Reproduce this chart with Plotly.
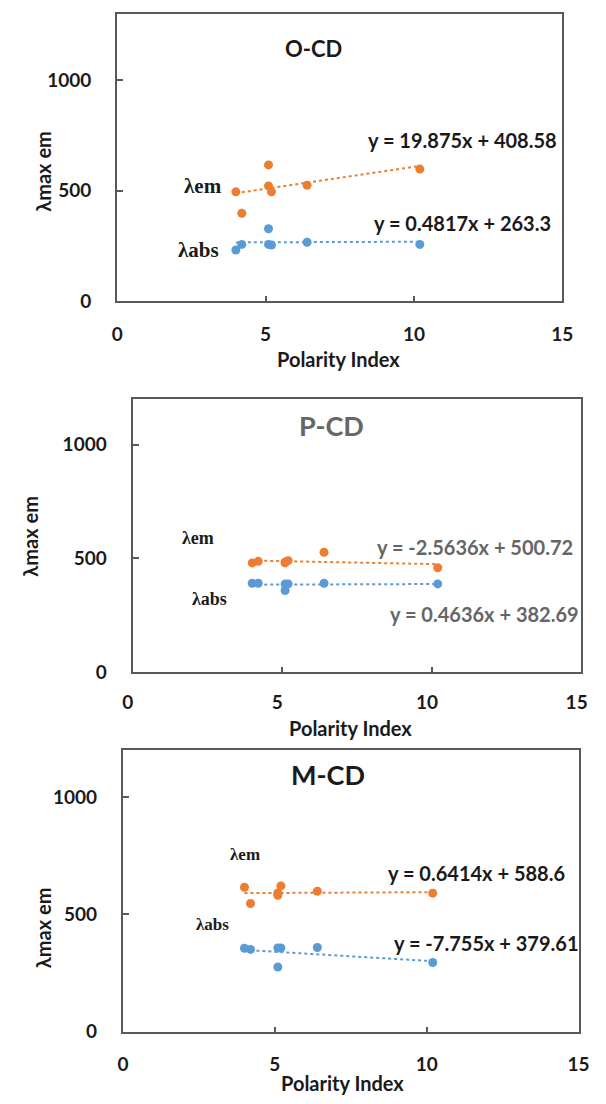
import plotly.graph_objects as go

W, H = 606, 1104

# ---------------- data ----------------
panel_names = ["O-CD", "P-CD", "M-CD"]
polarity_x = [4.0, 4.2, 5.1, 5.1, 5.2, 6.4, 10.2]

ocd_em = [494, 397, 616, 521, 494, 524, 597]
ocd_abs = [231, 256, 327, 256, 253, 266, 256]
pcd_em = [480, 487, 480, 484, 490, 527, 459]
pcd_abs = [391, 391, 359, 388, 388, 391, 388]
mcd_em = [616, 547, 582, 592, 622, 599, 591]
mcd_abs = [356, 351, 276, 357, 357, 359, 295]

em_slope = [19.875, -2.5636, 0.6414]
em_intercept = [408.58, 500.72, 588.6]
abs_slope = [0.4817, 0.4636, -7.755]
abs_intercept = [263.3, 382.69, 379.61]

em_eq_text = ["y = 19.875x + 408.58", "y = -2.5636x + 500.72", "y = 0.6414x + 588.6"]
abs_eq_text = ["y = 0.4817x + 263.3", "y = 0.4636x + 382.69", "y = -7.755x + 379.61"]

x_ticks = [0, 5, 10, 15]
x_tick_labels = ["0", "5", "10", "15"]
y_ticks = [0, 500, 1000]
y_tick_labels = ["0", "500", "1000"]
y_max = [1300, 1200, 1200]

ORANGE = "#ED7D31"
BLUE = "#5B9BD5"
AX = "#595959"
DARK = "#1a1a1a"
GRAY = "#666666"
SANS = "Lato"
SERIF = "Liberation Serif"

# ---------------- layout geometry (pixels) ----------------
boxes = [  # left, right, top, bottom
    (112, 577, 14, 304),
    (128, 597, 403, 679),
    (118, 594, 758, 1042),
]


def fx(px):
    return px / W


def fy(py):
    return 1 - py / H


em_series = [ocd_em, pcd_em, mcd_em]
abs_series = [ocd_abs, pcd_abs, mcd_abs]

fig = go.Figure()
for i in range(3):
    sfx = "" if i == 0 else str(i + 1)
    xr, yr = "x" + sfx, "y" + sfx
    xmin, xmax = min(polarity_x), max(polarity_x)
    fig.add_trace(go.Scatter(
        x=[xmin, xmax], y=[em_slope[i] * xmin + em_intercept[i], em_slope[i] * xmax + em_intercept[i]],
        mode="lines", line=dict(color=ORANGE, width=2, dash="dot"), xaxis=xr, yaxis=yr, showlegend=False,
        hoverinfo="skip"))
    fig.add_trace(go.Scatter(
        x=[xmin, xmax], y=[abs_slope[i] * xmin + abs_intercept[i], abs_slope[i] * xmax + abs_intercept[i]],
        mode="lines", line=dict(color=BLUE, width=2, dash="dot"), xaxis=xr, yaxis=yr, showlegend=False,
        hoverinfo="skip"))
    fig.add_trace(go.Scatter(x=polarity_x, y=em_series[i], mode="markers",
                             marker=dict(color=ORANGE, size=9), xaxis=xr, yaxis=yr, showlegend=False,
                             name="λem"))
    fig.add_trace(go.Scatter(x=polarity_x, y=abs_series[i], mode="markers",
                             marker=dict(color=BLUE, size=9), xaxis=xr, yaxis=yr, showlegend=False,
                             name="λabs"))

layout = dict(width=W, height=H, margin=dict(l=0, r=0, t=0, b=0), autosize=False,
              paper_bgcolor="white", plot_bgcolor="white", showlegend=False)

x_standoff = [15, 12, 15]
tickfont = dict(family=SANS, size=19, color=DARK, weight="bold")
for i, (l, r, t, b) in enumerate(boxes):
    sfx = "" if i == 0 else str(i + 1)
    # the middle panel's x tick labels sit slightly left of their ticks in the reference
    xt = [s + "\u2002" for s in x_tick_labels] if i == 1 else x_tick_labels
    layout["xaxis" + sfx] = dict(
        domain=[fx(l), fx(r)], range=[0, 15], anchor="y" + sfx, tickvals=x_ticks, ticktext=xt,
        ticks="inside", ticklen=5, tickwidth=2, tickcolor=AX, showline=True, linecolor=AX, linewidth=2,
        mirror=True, showgrid=False, zeroline=False, tickfont=tickfont, ticklabelstandoff=x_standoff[i])
    layout["yaxis" + sfx] = dict(
        domain=[fy(b), fy(t)], range=[0, y_max[i]], anchor="x" + sfx, tickvals=y_ticks,
        ticktext=y_tick_labels,
        ticks="inside", ticklen=6, tickwidth=2, tickcolor=AX, showline=True, linecolor=AX, linewidth=2,
        mirror=True, showgrid=False, zeroline=False, tickfont=tickfont, ticklabelstandoff=20)

fig.update_layout(**layout)

# ---------------- text annotations (pixel positions) ----------------
title_pos = [(317, 49, 22, DARK), (336, 430, 27, GRAY), (332, 782, 27, DARK)]
eq_em_pos = [(473, 141), (486, 553), (487, 882)]
eq_abs_pos = [(473, 225), (496, 620), (498, 952)]
eq_color = [DARK, GRAY, DARK]
lam_em_pos = [(202, 188, 21), (196, 543, 18), (246, 863, 17)]
lam_abs_pos = [(197, 253, 21), (208, 605, 18), (212, 934, 17)]
ytitle_pos = [(35, 173), (20, 542), (34, 937)]
xtitle_pos = [(343, 363), (356, 735), (347, 1094)]


def ann(text, px, py, size, color, family=SANS, angle=0):
    fig.add_annotation(text=text, x=fx(px), y=fy(py), xref="paper", yref="paper",
                       xanchor="center", yanchor="middle", showarrow=False, textangle=angle,
                       font=dict(family=family, size=size, color=color, weight="bold"))


for i in range(3):
    tx, ty, ts, tc = title_pos[i]
    ann(panel_names[i], tx, ty, ts, tc)
    ann(em_eq_text[i], eq_em_pos[i][0], eq_em_pos[i][1], 20, eq_color[i])
    ann(abs_eq_text[i], eq_abs_pos[i][0], eq_abs_pos[i][1], 20, eq_color[i])
    ann("λem", lam_em_pos[i][0], lam_em_pos[i][1], lam_em_pos[i][2], DARK, family=SERIF)
    ann("λabs", lam_abs_pos[i][0], lam_abs_pos[i][1], lam_abs_pos[i][2], DARK, family=SERIF)
    ann("λmax em", ytitle_pos[i][0], ytitle_pos[i][1], 20, DARK, angle=-90)
    ann("Polarity Index", xtitle_pos[i][0], xtitle_pos[i][1], 20, DARK)

fig.write_html("out.html", config={"displayModeBar": False},
               post_script="document.body.style.margin='0';document.body.style.overflow='hidden';")
